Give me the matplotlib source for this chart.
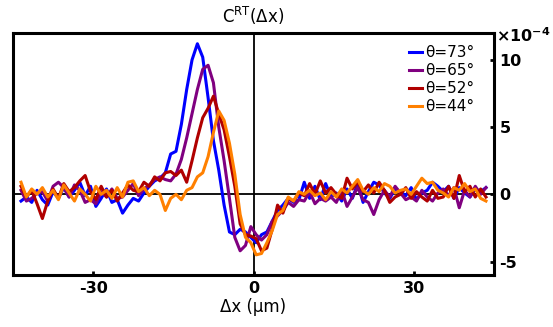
import numpy as np
import matplotlib
matplotlib.use("Agg")
import matplotlib.pyplot as plt

# Sample positions (µm), 1 µm spacing
dx = np.arange(-43.5, 43.51, 1.0)

# Correlation C^RT(Δx) in units of 1e-4
c_73 = [-0.5, -0.2, -0.6, 0.3, -0.4, -0.8, 0.2, -0.3, 0.5, -0.2, 0.3, 0.9, -0.1,
        0.6, -0.9, -0.3, 0.4, -0.6, -0.4, -1.4, -0.8, -0.3, -0.5, 0.1, 0.6, 1.0,
        1.2, 1.6, 3.0, 3.2, 5.2, 7.8, 10.0, 11.2, 10.2, 7.2, 4.0, 1.8, -0.8, -2.8,
        -3.0, -2.6, -2.8, -3.2, -3.6,
        -3.0, -2.8, -2.0, -1.2, -0.8, -0.3, -0.6, -0.4,
        0.9, -0.3, 0.6, -0.4, 0.8, -0.2, 0.1, -0.5, 0.4, -0.3, 0.8, -0.6, 0.2,
        0.9, 0.7, 0.1, -0.3, 0.4, 0.2, -0.1, 0.5, -0.4, 0.1, 0.3, 0.9, 0.6, 0.2,
        0.6, -0.3, 0.5, 0.1, -0.2, 0.4, 0.2, 0.5]
c_65 = [0.3, -0.5, -0.3, 0.1, 0.2, -0.5, 0.6, 0.9, 0.5, -0.2, 0.7, 0.3, -0.6,
        -0.4, -0.7, 0.2, -0.2, 0.4, -0.3, -0.2, 0.3, 0.8, -0.1, 0.4, 0.7, 1.1,
        1.3, 1.1, 1.0, 1.5, 2.6, 4.2, 6.0, 7.8, 9.3, 9.6, 8.3, 5.0, 2.5, -0.3,
        -3.2, -4.2, -3.8, -2.4, -3.0,
        -3.4, -3.0, -2.0, -1.6, -1.2, -0.6, -0.9, -0.4,
        -0.5, 0.2, -0.7, -0.3, -0.5, -0.2, -0.6, 0.3, -0.9, -0.2, 0.5, -0.4, -0.6,
        -1.5, -0.4, 0.3, -0.2, 0.6, 0.1, -0.4, -0.2, -0.5, 0.3, -0.2, -0.5, 0.1,
        0.4, -0.1, 0.5, -1.0, 0.3, -0.2, 0.6, 0.0, 0.5]
c_52 = [0.6, -0.2, 0.3, -0.7, -1.8, -0.5, 0.4, -0.3, 0.8, 0.2, 0.5, 1.0, 1.4,
        0.2, -0.4, 0.6, -0.2, 0.3, -0.5, 0.1, 0.7, 0.3, 0.2, 0.9, 0.6, 1.3,
        1.0, 1.6, 1.7, 1.4, 1.8, 0.9, 2.5, 4.2, 5.7, 6.4, 7.3, 6.0, 4.8, 2.8,
        0.6, -2.2, -3.0, -3.1, -3.3,
        -4.2, -4.0, -2.6, -0.8, -1.4, -0.3, -0.5, 0.1,
        -0.1, 0.8, 0.0, 1.0, 0.1, 0.5, 0.0, -0.3, 1.2, 0.4, 0.9, 0.2, 0.7,
        0.1, 0.9, 0.3, -0.6, -0.2, 0.0, 0.5, -0.3, 0.2, -0.2, -0.5, 0.3, -0.3,
        -0.2, 0.6, -0.3, 1.4, 0.2, 0.6, -0.2, 0.4, -0.2]
c_44 = [0.9, -0.2, 0.4, 0.0, 0.5, -0.2, 0.3, -0.4, 0.7, 0.1, -0.5, 0.4, 0.0,
        -0.5, 0.6, 0.0, 0.3, -0.3, 0.5, -0.2, 0.9, 1.0, 0.2, 0.5, -0.1, 0.3,
        0.0, -1.2, -0.3, 0.0, -0.4, 0.3, 0.5, 1.3, 1.6, 2.8, 4.6, 6.2, 5.5, 3.8,
        1.5, -1.5, -3.2, -3.6, -4.5,
        -4.4, -3.6, -2.7, -1.5, -1.2, -0.2, -0.5, 0.2,
        0.0, 0.3, -0.1, 0.1, -0.4, 0.2, -0.2, 0.4, 0.1, 0.6, 1.1, 0.3, 0.0,
        0.5, 0.2, 0.8, 0.6, 0.1, 0.3, 0.4, 0.0, 0.6, 1.2, 0.8, 0.9, 0.3,
        0.1, -0.2, 0.5, 0.3, 0.8, 0.2, 0.4, -0.3, -0.5]

labels = ["θ=73°", "θ=65°", "θ=52°", "θ=44°"]
colors = ["#0000ff", "#800080", "#b00000", "#ff8000"]
series = [c_73, c_65, c_52, c_44]

x_ticks = [-30, 0, 30]
y_ticks = [-5, 0, 5, 10]

fig = plt.figure(figsize=(5.53, 3.27), dpi=100)
ax = fig.add_axes([13 / 553, 52 / 327, 481 / 553, 242 / 327])

ax.axhline(0, color="black", lw=1.3, zorder=1)
ax.axvline(0, color="black", lw=1.3, zorder=1)

for y, c, lab in zip(series, colors, labels):
    ax.plot(dx, y, color=c, lw=2.2, label=lab, zorder=2)

ax.set_xlim(-45, 45)
ax.set_ylim(-6, 12)
ax.set_xticks(x_ticks)
ax.set_xticklabels([str(t) for t in x_ticks], fontweight="bold", fontsize=11.5)
ax.set_yticks(y_ticks)
ax.set_yticklabels([str(t) for t in y_ticks], fontweight="bold", fontsize=11.5)
ax.yaxis.tick_right()
ax.tick_params(axis="both", direction="in", length=3, width=2, pad=4)
ax.tick_params(axis="y", left=False)
ax.tick_params(axis="x", top=False)

for s in ax.spines.values():
    s.set_linewidth(2.2)

ax.set_title("C$^{\\mathrm{RT}}$(Δx)", fontsize=12, pad=7)
ax.set_xlabel("Δx (µm)", fontsize=12, labelpad=2)

ax.text(1.005, 0.99, "×10$^{\\mathbf{-4}}$", transform=ax.transAxes,
        fontsize=11.5, fontweight="bold", ha="left", va="center")

ax.legend(loc="upper right", bbox_to_anchor=(0.96, 0.95), frameon=False,
          fontsize=11, handlelength=0.9, handletextpad=0.2, labelspacing=0.2,
          borderaxespad=0.0, borderpad=0.0)

fig.savefig("out.png", dpi=100)
